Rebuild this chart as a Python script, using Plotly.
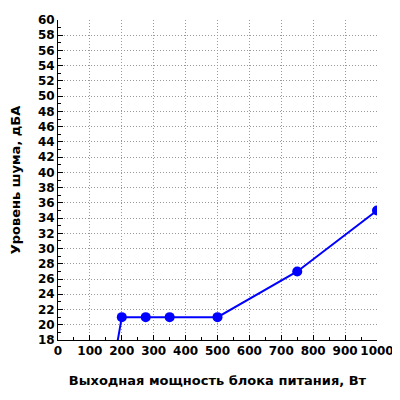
import plotly.graph_objects as go

# мощность блока питания, Вт и уровень шума, дБА
power_w = [150, 200, 275, 350, 500, 750, 1000]
noise_dba = [9, 21, 21, 21, 21, 27, 35]

x_ticks = list(range(0, 1001, 100))
y_ticks = list(range(18, 61, 2))

font_bold = "DejaVu Sans"

data = [go.Scatter(x=power_w, y=noise_dba, mode="lines+markers",
                   line=dict(color="#0000FF", width=2),
                   marker=dict(color="#0000FF", size=10),
                   cliponaxis=True, showlegend=False)]

# страница добавляет отступ 8px, поэтому фигура 392x392
layout = go.Layout(
    width=392, height=392,
    paper_bgcolor="white", plot_bgcolor="white",
    margin=dict(l=50, r=23, t=12, b=60),
    font=dict(family=font_bold, size=11, color="black"),
    xaxis=dict(range=[0, 1000], tickvals=x_ticks,
               ticktext=["<b>%d</b>" % v for v in x_ticks],
               ticks="inside", ticklen=5,
               tickcolor="black", showline=True, linecolor="black", linewidth=1,
               showgrid=True, gridcolor="#999999", griddash="1px,2px", gridwidth=1,
               minor=dict(dtick=50, ticks="inside", ticklen=3, tickcolor="black", showgrid=False),
               zeroline=False, automargin=False,
               tickfont=dict(family=font_bold, size=12, weight=700),
               title=dict(text="<b>Выходная мощность блока питания, Вт</b>",
                          font=dict(family=font_bold, size=13), standoff=18)),
    yaxis=dict(range=[18, 60], tickvals=y_ticks,
               ticktext=["<b>%d</b>" % v for v in y_ticks],
               ticks="inside", ticklen=5,
               tickcolor="black", showline=True, linecolor="black", linewidth=1,
               showgrid=True, gridcolor="#999999", griddash="1px,2px", gridwidth=1,
               minor=dict(dtick=1, ticks="inside", ticklen=3, tickcolor="black", showgrid=False),
               zeroline=False, automargin=False,
               tickfont=dict(family=font_bold, size=12, weight=700),
               title=dict(text="<b>Уровень шума, дБА</b>",
                          font=dict(family=font_bold, size=13), standoff=17)),
)

fig = go.Figure(data=data, layout=layout)
fig.write_html("out.html")
